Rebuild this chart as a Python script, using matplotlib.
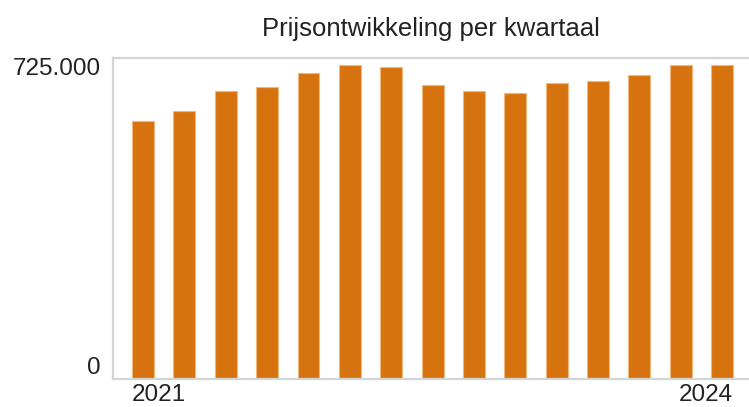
import matplotlib.pyplot as plt
import numpy as np

plt.rcParams['font.family'] = ['Liberation Sans', 'DejaVu Sans']

# quarterly prices 2021 Q1 .. 2024 Q3
quarters = ['2021 Q1', '2021 Q2', '2021 Q3', '2021 Q4',
            '2022 Q1', '2022 Q2', '2022 Q3', '2022 Q4',
            '2023 Q1', '2023 Q2', '2023 Q3', '2023 Q4',
            '2024 Q1', '2024 Q2', '2024 Q3']
prices = [582700, 604600, 650500, 658800, 691100, 709200, 705400, 664700,
          650500, 646000, 668500, 673000, 686600, 709200, 709200]
y_ticks = [0, 725000]
y_tick_labels = ['0', '725.000']
x_tick_labels = ['2021', '2024']

fig = plt.figure(figsize=(7.49, 4.07), dpi=100)
ax = fig.add_axes([0.151, 0.069, 0.849, 0.788])

x = np.arange(len(prices))
width = 0.53
ax.bar(x, prices, width=width, color='#d6730e', edgecolor='#f2b77a', linewidth=0.8)

ax.set_xlim(-0.725, 14.65)
ax.set_ylim(0, 725000)

for side in ['top', 'bottom', 'left']:
    ax.spines[side].set_color('#d4d4d4')
    ax.spines[side].set_linewidth(1.6)
ax.spines['right'].set_visible(False)

ax.set_yticks(y_ticks)
ax.set_yticklabels(y_tick_labels, fontsize=17.5, color='#222222')
ax.get_yticklabels()[0].set_va('bottom')
ax.get_yticklabels()[1].set_va('top')

ax.set_xticks([x[0] - width / 2, x[-1] + width / 2])
ax.set_xticklabels(x_tick_labels, fontsize=17.5, color='#222222')
ax.get_xticklabels()[0].set_ha('left')
ax.get_xticklabels()[1].set_ha('right')
ax.tick_params(length=0, pad=9)
ax.tick_params(axis='x', pad=4)

ax.set_title('Prijsontwikkeling per kwartaal', fontsize=18.5, color='#222222', pad=16)

fig.savefig('out.png', dpi=100)
